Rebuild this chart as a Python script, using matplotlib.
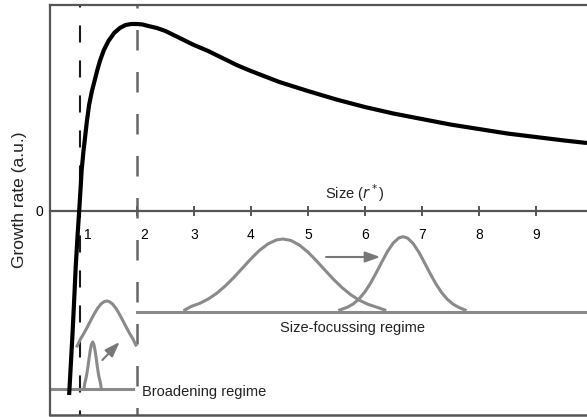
import matplotlib.pyplot as plt
from matplotlib.transforms import ScaledTranslation

plt.rcParams['font.family'] = ['Liberation Sans', 'DejaVu Sans']

# growth rate curve (size in units of r*, growth rate in a.u.)
size = [0.81, 0.84, 0.87, 0.90, 0.925, 0.955, 0.986, 1.01, 1.03, 1.06, 1.09, 1.12,
        1.16, 1.21, 1.26, 1.30, 1.35, 1.42, 1.50, 1.60, 1.70, 1.80, 1.90, 2.0,
        2.1, 2.2, 2.35, 2.5, 2.75, 3.0, 3.25, 3.5, 3.75, 4.0, 4.25, 4.5, 4.75,
        5.0, 5.5, 6.0, 6.5, 7.0, 7.5, 8.0, 8.5, 9.0, 9.5, 9.9]
rate = [-1.84, -1.53, -1.22, -0.87, -0.56, -0.27, 0.0, 0.22, 0.41, 0.59, 0.74, 0.89,
        1.06, 1.20, 1.31, 1.40, 1.50, 1.61, 1.70, 1.78, 1.83, 1.86, 1.87, 1.87,
        1.865, 1.85, 1.83, 1.80, 1.73, 1.66, 1.60, 1.53, 1.46, 1.40, 1.345, 1.29, 1.245,
        1.20, 1.115, 1.04, 0.975, 0.92, 0.865, 0.82, 0.775, 0.74, 0.705, 0.68]

# size distributions
broad_x = [0.95, 1.01, 1.07, 1.13, 1.19, 1.25, 1.31, 1.37, 1.43, 1.469,
           1.51, 1.57, 1.63, 1.69, 1.75, 1.81, 1.87, 1.93, 1.98]
broad_y = [-1.35, -1.279, -1.223, -1.159, -1.093, -1.029, -0.972, -0.929, -0.905, -0.90,
           -0.905, -0.929, -0.972, -1.029, -1.093, -1.159, -1.223, -1.279, -1.34]
seed_x = [1.07, 1.085, 1.10, 1.12, 1.14, 1.16, 1.18, 1.20, 1.223,
          1.245, 1.265, 1.285, 1.305, 1.325, 1.345, 1.36, 1.375]
seed_y = [-1.78, -1.72, -1.688, -1.631, -1.557, -1.474, -1.395, -1.336, -1.31,
          -1.336, -1.395, -1.474, -1.557, -1.631, -1.688, -1.72, -1.78]
wide_x = [2.84, 2.95, 3.10, 3.25, 3.40, 3.55, 3.70, 3.85, 4.00, 4.15, 4.30, 4.45, 4.56,
          4.70, 4.85, 5.00, 5.15, 5.30, 5.45, 5.60, 5.75, 5.90, 6.05, 6.20, 6.35]
wide_y = [-0.99, -0.955, -0.924, -0.881, -0.823, -0.750, -0.665, -0.572, -0.479, -0.394,
          -0.329, -0.289, -0.28, -0.294, -0.340, -0.410, -0.497, -0.591, -0.683, -0.766,
          -0.836, -0.891, -0.932, -0.960, -0.99]
sharp_x = [5.56, 5.70, 5.80, 5.90, 6.00, 6.10, 6.20, 6.30, 6.40, 6.50, 6.60, 6.67,
           6.75, 6.85, 6.95, 7.05, 7.15, 7.25, 7.35, 7.45, 7.55, 7.65, 7.76]
sharp_y = [-0.99, -0.961, -0.928, -0.878, -0.810, -0.722, -0.618, -0.508, -0.403, -0.319,
           -0.268, -0.257, -0.271, -0.326, -0.413, -0.519, -0.629, -0.731, -0.817,
           -0.884, -0.932, -0.964, -0.99]

broad_base = -1.78
focus_base = -1.007
xticks = [1, 2, 3, 4, 5, 6, 7, 8, 9]

fig = plt.figure(figsize=(5.87, 4.17), dpi=100)
ax = fig.add_axes([50 / 587, 2 / 417, 537 / 587, 410 / 417])
ax.set_xlim(0.474, 9.90)
ax.set_ylim(-2.04, 2.06)

grey = '#8a8a8a'
frame = '#555555'

# dashed lines at r* and 2r*
dash = (7, (8.2, 8.6))
ax.plot([1, 1], [2.06, -2.04], color='#1a1a1a', lw=1.5, ls=dash, zorder=2)
ax.plot([2, 2], [2.06, -2.04], color='#666666', lw=1.8, ls=dash, zorder=2)

# baselines and distributions
ax.plot([0.474, 1.93], [broad_base, broad_base], color=grey, lw=2.2)
ax.plot([2.0, 9.90], [focus_base, focus_base], color=grey, lw=2.2)
ax.plot(broad_x, broad_y, color=grey, lw=2.2)
ax.plot(seed_x, seed_y, color=grey, lw=2.2)
ax.plot(wide_x, wide_y, color=grey, lw=2.2)
ax.plot(sharp_x, sharp_y, color=grey, lw=2.2)

arrow = dict(arrowstyle='-|>,head_length=0.9,head_width=0.32', color='#777777', lw=1.5)
ax.annotate('', xy=(1.73, -1.29), xytext=(1.36, -1.51), arrowprops=arrow)
ax.annotate('', xy=(6.32, -0.46), xytext=(5.27, -0.46), arrowprops=arrow)

# growth curve
ax.plot(size, rate, color='black', lw=3.0, solid_capstyle='butt',
        solid_joinstyle='round', zorder=5)

# frame: bottom spine acts as the size axis at zero
for s in ['left', 'top', 'bottom']:
    ax.spines[s].set_color(frame)
    ax.spines[s].set_linewidth(1.6)
ax.spines['right'].set_visible(False)
ax.spines['bottom'].set_position(('data', 0))
ax.plot([0, 1], [0, 0], transform=ax.transAxes, color=frame, lw=1.8, clip_on=False)

ax.set_xticks(xticks)
ax.set_xticklabels([str(t) for t in xticks])
ax.tick_params(axis='x', direction='inout', length=6.5, width=1.4, color=frame,
               labelsize=10, pad=9)
for lab in ax.get_xticklabels()[:2]:
    lab.set_transform(lab.get_transform() + ScaledTranslation(0.075, 0, fig.dpi_scale_trans))
ax.set_yticks([0])
ax.tick_params(axis='y', length=0, labelsize=10, pad=5)

ax.text(5.83, 0.18, 'Size ($r^*$)', fontsize=10.5, ha='center', va='center', color='#222222')
ax.text(2.09, -1.81, 'Broadening regime', fontsize=10.5, ha='left', va='center', color='#222222')
ax.text(4.51, -1.17, 'Size-focussing regime', fontsize=10.5, ha='left', va='center', color='#222222')
fig.text(20 / 587, 1 - 200 / 417, 'Growth rate (a.u.)', rotation=90, fontsize=12.5,
         ha='center', va='center', color='#222222')

fig.savefig('out.png', dpi=100)
